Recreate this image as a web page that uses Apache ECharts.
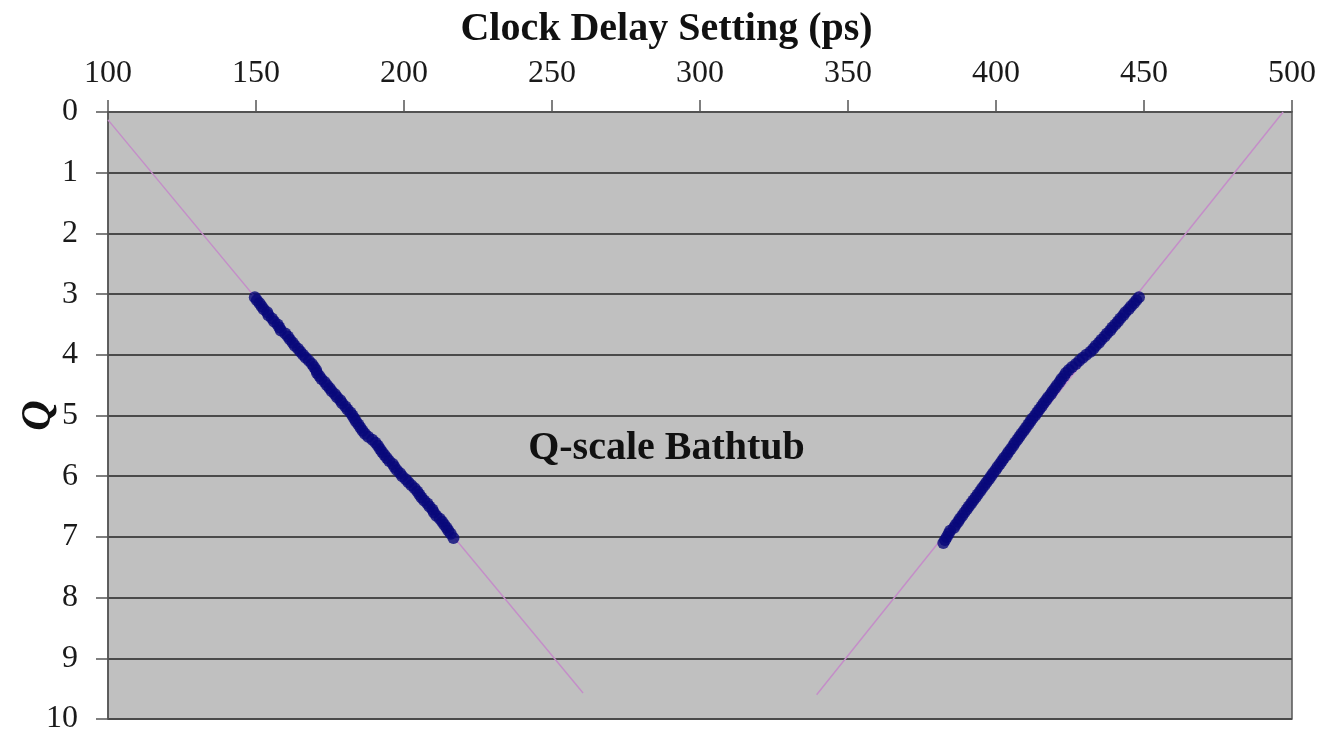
<!DOCTYPE html>
<html>
<head>
<meta charset="utf-8">
<script src="https://cdn.jsdelivr.net/npm/echarts@6/dist/echarts.min.js"></script>
<style>
html,body{margin:0;padding:0;background:#fff;}
#chart{width:1333px;height:738px;}
</style>
</head>
<body>
<div id="chart"></div>
<script>
// Axis ticks
const xTicks = [100,150,200,250,300,350,400,450,500];
const yTicks = [0,1,2,3,4,5,6,7,8,9,10];

// Measured points [clock delay (ps), Q]
const leftPoints = [
[149.6,3.05],[150.3,3.10],[151.2,3.15],[151.9,3.20],[152.6,3.25],[153.8,3.30],[154.2,3.35],[155.4,3.40],
[156.1,3.45],[157.3,3.50],[157.9,3.55],[158.4,3.60],[159.9,3.65],[160.8,3.70],[161.5,3.75],[162.4,3.80],
[163.1,3.85],[164.2,3.90],[165.0,3.95],[165.9,4.00],[166.8,4.05],[167.9,4.10],[168.9,4.15],[169.6,4.20],
[170.3,4.25],[170.6,4.30],[171.4,4.35],[172.1,4.40],[173.2,4.45],[174.0,4.50],[174.9,4.55],[175.6,4.60],
[176.7,4.65],[177.4,4.70],[178.5,4.75],[179.1,4.80],[180.2,4.85],[180.9,4.90],[181.9,4.95],[182.6,5.00],
[183.2,5.05],[183.8,5.10],[184.6,5.15],[185.3,5.20],[186.0,5.25],[186.8,5.30],[187.9,5.35],[189.3,5.40],
[190.4,5.45],[191.2,5.50],[191.9,5.55],[192.6,5.60],[193.4,5.65],[194.2,5.70],[195.0,5.75],[196.2,5.80],
[196.8,5.85],[197.6,5.90],[198.7,5.95],[199.4,6.00],[200.6,6.05],[201.5,6.10],[202.5,6.15],[203.6,6.20],
[204.5,6.25],[205.2,6.30],[205.9,6.35],[206.8,6.40],[207.9,6.45],[208.6,6.50],[209.6,6.55],[210.1,6.60],
[210.9,6.65],[212.1,6.70],[212.9,6.75],[213.6,6.80],[214.4,6.85],[215.0,6.90],[215.8,6.95],[216.7,7.02]
];
const rightPoints = [
[448.3,3.05],[447.4,3.10],[446.6,3.15],[445.6,3.20],[444.8,3.25],[443.7,3.30],[443.0,3.35],[442.0,3.40],
[441.2,3.45],[440.3,3.50],[439.3,3.55],[438.6,3.60],[437.5,3.65],[436.7,3.70],[435.6,3.75],[434.8,3.80],
[433.7,3.85],[432.9,3.90],[431.9,3.95],[430.5,4.00],[429.3,4.05],[428.1,4.10],[427.0,4.15],[425.7,4.20],
[424.6,4.25],[423.6,4.30],[423.0,4.35],[422.1,4.40],[421.5,4.45],[420.6,4.50],[419.9,4.55],[419.1,4.60],
[418.5,4.65],[417.6,4.70],[416.9,4.75],[416.1,4.80],[415.4,4.85],[414.6,4.90],[413.9,4.95],[413.2,5.00],
[412.3,5.05],[411.6,5.10],[410.9,5.15],[410.1,5.20],[409.4,5.25],[408.6,5.30],[407.9,5.35],[407.2,5.40],
[406.4,5.45],[405.8,5.50],[405.0,5.55],[404.2,5.60],[403.6,5.65],[402.7,5.70],[402.0,5.75],[401.3,5.80],
[400.5,5.85],[399.8,5.90],[399.0,5.95],[398.3,6.00],[397.6,6.05],[396.8,6.10],[396.1,6.15],[395.3,6.20],
[394.6,6.25],[393.8,6.30],[393.1,6.35],[392.3,6.40],[391.6,6.45],[390.8,6.50],[390.1,6.55],[389.3,6.60],
[388.6,6.65],[387.8,6.70],[387.2,6.75],[386.4,6.80],[385.8,6.85],[384.5,6.90],[384.0,6.95],[383.4,7.00],
[382.8,7.05],[382.2,7.10]
];
// Linear fit lines (end points)
const leftFit = [[100,0.13],[260.5,9.57]];
const rightFit = [[497,0],[339.4,9.6]];

const titleText = 'Clock Delay Setting (ps)';
const innerText = 'Q-scale Bathtub';
const yName = 'Q';

const serif = '"Liberation Serif","DejaVu Serif",serif';
const chart = echarts.init(document.getElementById('chart'), null, {renderer:'canvas'});
chart.setOption({
  animation:false,
  backgroundColor:'#ffffff',
  title:[
    {text:titleText,left:'center',top:5,textStyle:{fontFamily:serif,fontWeight:'bold',fontSize:40,color:'#111'}},
    {text:innerText,left:'center',top:424,textStyle:{fontFamily:serif,fontWeight:'bold',fontSize:40,color:'#111'}}
  ],
  grid:{left:108,right:41,top:112,bottom:19,outerBoundsMode:'none',containLabel:false,show:true,backgroundColor:'#c0c0c0',borderColor:'#555',borderWidth:1.5},
  xAxis:{
    type:'value',position:'top',min:xTicks[0],max:xTicks[xTicks.length-1],interval:50,
    axisLine:{show:true,lineStyle:{color:'#555',width:1.5}},
    axisTick:{show:true,inside:false,length:12,lineStyle:{color:'#555',width:1.5}},
    axisLabel:{margin:22,fontFamily:serif,fontSize:32,color:'#1a1a1a'},
    splitLine:{show:false}
  },
  yAxis:{
    type:'value',inverse:true,min:yTicks[0],max:yTicks[yTicks.length-1],interval:1,
    name:yName,nameLocation:'middle',nameGap:48,nameRotate:90,nameMoveOverlap:false,
    nameTextStyle:{fontFamily:serif,fontStyle:'italic',fontWeight:'bold',fontSize:42,color:'#111'},
    axisLine:{show:true,lineStyle:{color:'#555',width:1.5}},
    axisTick:{show:true,inside:false,length:12,lineStyle:{color:'#555',width:1.5}},
    axisLabel:{margin:30,fontFamily:serif,fontSize:32,color:'#1a1a1a'},
    splitLine:{show:true,lineStyle:{color:'#4a4a4a',width:2}}
  },
  series:[
    {type:'line',data:leftFit,symbol:'none',lineStyle:{color:'#c48ec8',width:1.5},z:2},
    {type:'line',data:rightFit,symbol:'none',lineStyle:{color:'#c48ec8',width:1.5},z:2},
    {type:'scatter',data:leftPoints,symbol:'circle',symbolSize:12,itemStyle:{color:'#07077a'},z:3},
    {type:'scatter',data:rightPoints,symbol:'circle',symbolSize:12,itemStyle:{color:'#07077a'},z:3}
  ]
});
</script>
</body>
</html>
